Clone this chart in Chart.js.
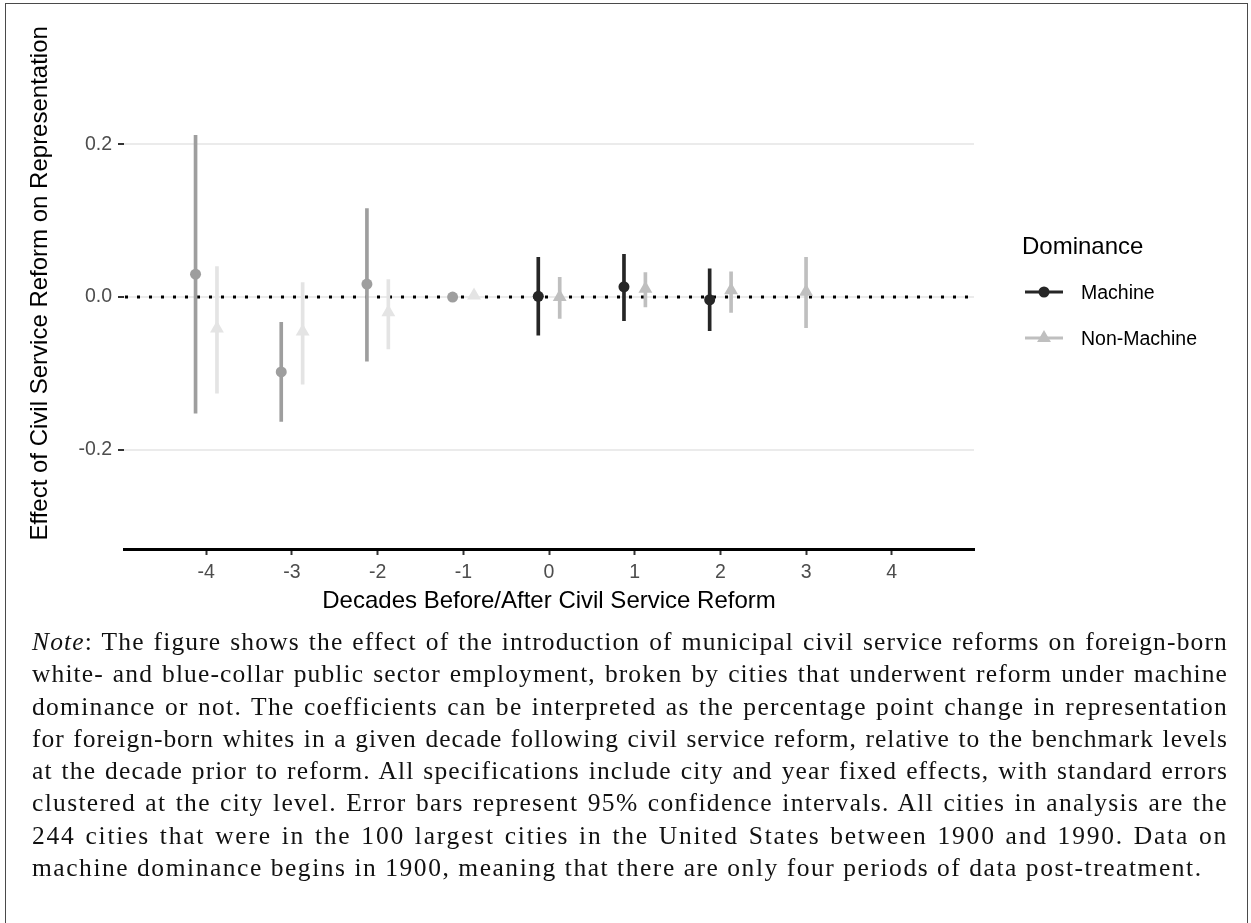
<!DOCTYPE html>
<html>
<head>
<meta charset="utf-8">
<script src="https://cdn.jsdelivr.net/npm/chart.js@4.4.1/dist/chart.umd.min.js"></script>
<style>
html,body{margin:0;padding:0;background:#fff;}
body{width:1251px;height:923px;position:relative;overflow:hidden;}
#frame{position:absolute;left:5px;top:3px;width:1243px;height:1000px;border:1.5px solid #4a4a4a;box-sizing:border-box;}
#chart1{position:absolute;left:0;top:0;}
#note{position:absolute;left:32px;top:626px;width:1196px;font-family:"Liberation Serif",serif;font-size:25.5px;line-height:32.3px;color:#111;}
#note div{text-align:justify;text-align-last:justify;}
#note div.last{text-align:left;text-align-last:left;}
</style>
</head>
<body>
<div id="frame"></div>
<canvas id="chart1" width="1251" height="640"></canvas>
<div id="note">
<div><i>Note</i>: The figure shows the effect of the introduction of municipal civil service reforms on foreign-born</div>
<div>white- and blue-collar public sector employment, broken by cities that underwent reform under machine</div>
<div>dominance or not. The coefficients can be interpreted as the percentage point change in representation</div>
<div>for foreign-born whites in a given decade following civil service reform, relative to the benchmark levels</div>
<div>at the decade prior to reform. All specifications include city and year fixed effects, with standard errors</div>
<div>clustered at the city level. Error bars represent 95% confidence intervals. All cities in analysis are the</div>
<div>244 cities that were in the 100 largest cities in the United States between 1900 and 1990. Data on</div>
<div class="last">machine dominance begins in 1900, meaning that there are only four periods of data post-treatment.</div>
</div>
<script>
// decades relative to reform
const decades = [-4, -3, -2, -1, 0, 1, 2, 3];

// Machine dominance: estimate and 95% CI (no estimate at +3)
const machineEst = [0.030, -0.098, 0.017, 0.000, 0.001, 0.0135, -0.0035, null];
const machineLo  = [-0.152, -0.163, -0.084, 0.000, -0.050, -0.031, -0.044, null];
const machineHi  = [0.212, -0.033, 0.116, 0.000, 0.052, 0.056, 0.037, null];

// Non-machine
const nonMachEst = [-0.041, -0.045, -0.020, 0.002, 0.000, 0.011, 0.009, 0.007];
const nonMachLo  = [-0.126, -0.114, -0.068, 0.002, -0.028, -0.013, -0.020, -0.040];
const nonMachHi  = [0.040, 0.019, 0.023, 0.002, 0.026, 0.032, 0.033, 0.052];

const xTicks = [-4, -3, -2, -1, 0, 1, 2, 3, 4];
const yTicks = [-0.2, 0, 0.2];
const seriesNames = ['Machine', 'Non-Machine'];

const sans = '"Liberation Sans", Arial, Helvetica, sans-serif';
const dodge = 0.125;
const machCol = '#262626', machColPre = '#9e9e9e';
const nmCol = '#bfbfbf', nmColPre = '#e4e4e4';

let mPts = [], mBars = [], mCols = [];
let nPts = [], nBars = [], nCols = [];
decades.forEach((d, i) => {
    const both = machineEst[i] != null;
    if (both) {
        mPts.push({x: d - dodge, y: machineEst[i]});
        mBars.push({x: d - dodge, y: [machineLo[i], machineHi[i]]});
        mCols.push(d < 0 ? machColPre : machCol);
    }
    const nx = both ? d + dodge : d;
    nPts.push({x: nx, y: nonMachEst[i]});
    nBars.push({x: nx, y: [nonMachLo[i], nonMachHi[i]]});
    nCols.push(d < 0 ? nmColPre : nmCol);
});

// dotted line at zero, under the marks
const zeroLine = {
    id: 'zeroLine',
    beforeDatasetsDraw(chart) {
        const c = chart.ctx, a = chart.chartArea;
        const y = chart.scales.y.getPixelForValue(0);
        c.save();
        c.strokeStyle = '#000';
        c.lineWidth = 3;
        c.setLineDash([3, 9]);
        c.beginPath();
        c.moveTo(a.left + 1, y);
        c.lineTo(a.right - 6, y);
        c.stroke();
        c.restore();
    }
};

// ggplot-like legend on the right
const domLegend = {
    id: 'domLegend',
    afterDraw(chart) {
        const c = chart.ctx;
        c.save();
        c.fillStyle = '#000';
        c.textBaseline = 'alphabetic';
        c.font = '24px ' + sans;
        c.fillText('Dominance', 1022, 254);
        const rows = [
            {y: 292, col: machCol, style: 'circle', r: 5.5},
            {y: 338, col: nmCol, style: 'triangle', r: 8}
        ];
        rows.forEach((row, i) => {
            c.strokeStyle = row.col;
            c.lineWidth = 3;
            c.beginPath();
            c.moveTo(1025, row.y);
            c.lineTo(1063, row.y);
            c.stroke();
            c.fillStyle = row.col;
            Chart.helpers.drawPoint(c, {pointStyle: row.style, radius: row.r, borderWidth: 0}, 1044, row.y);
            c.fillStyle = '#000';
            c.font = '19.5px ' + sans;
            c.fillText(seriesNames[i], 1081, row.y + 7);
        });
        c.restore();
    }
};

const ctx = document.getElementById('chart1');
new Chart(ctx, {
    type: 'scatter',
    data: {
        datasets: [
            {type: 'scatter', label: seriesNames[0], data: mPts, pointStyle: 'circle', pointRadius: 5.5,
             pointBackgroundColor: mCols, pointBorderWidth: 0, pointHoverRadius: 5.5},
            {type: 'scatter', label: seriesNames[1], data: nPts, pointStyle: 'triangle', pointRadius: 8,
             pointBackgroundColor: nCols, pointBorderWidth: 0, pointHoverRadius: 8},
            {type: 'bar', label: 'ci1', data: mBars, backgroundColor: mCols, barThickness: 3, grouped: false, borderWidth: 0},
            {type: 'bar', label: 'ci2', data: nBars, backgroundColor: nCols, barThickness: 3, grouped: false, borderWidth: 0}
        ]
    },
    options: {
        responsive: false,
        devicePixelRatio: 1,
        animation: false,
        events: [],
        layout: {padding: {top: 17, right: 277, left: 0, bottom: 0}},
        plugins: {legend: {display: false}, tooltip: {enabled: false}},
        scales: {
            x: {
                type: 'linear', min: -4.96, max: 4.96, offset: false,
                afterBuildTicks: s => { s.ticks = xTicks.map(v => ({value: v})); },
                afterFit: s => { s.height = 91; },
                ticks: {font: {size: 19.5, family: sans}, color: '#4d4d4d', padding: 6, maxRotation: 0, autoSkip: false,
                        callback: v => String(v)},
                grid: {offset: false, drawOnChartArea: false, drawTicks: true, tickLength: 6, tickColor: '#333', tickWidth: 2},
                border: {display: true, color: '#000', width: 3},
                title: {display: true, text: 'Decades Before/After Civil Service Reform', color: '#000',
                        font: {size: 24, family: sans}, padding: {top: 0, bottom: 24.6}}
            },
            y: {
                min: -0.33, max: 0.366,
                afterBuildTicks: s => { s.ticks = yTicks.map(v => ({value: v})); },
                afterFit: s => { s.width = 124; },
                ticks: {font: {size: 19.5, family: sans}, color: '#4d4d4d', padding: 6,
                        callback: v => v.toFixed(1)},
                grid: {color: '#ebebeb', lineWidth: 2, tickColor: '#333', tickWidth: 2, tickLength: 6},
                border: {display: false},
                title: {display: true, text: 'Effect of Civil Service Reform on Representation', color: '#000',
                        font: {size: 24, family: sans}, padding: {top: 25.6, bottom: 0}}
            }
        }
    },
    plugins: [zeroLine, domLegend]
});

// fit each justified note line: most of the slack goes into letter spacing
const lines = document.querySelectorAll('#note div');
lines.forEach(el => {
    el.style.display = 'inline-block';
    const w = el.getBoundingClientRect().width;
    el.style.display = 'block';
    const n = el.textContent.length;
    const target = el.classList.contains('last') ? 1171 : 1196;
    const share = el.classList.contains('last') ? 1 : 0.85;
    const ls = Math.max(-0.5, (target - w) / n * share);
    el.style.letterSpacing = ls.toFixed(2) + 'px';
});
</script>
</body>
</html>
